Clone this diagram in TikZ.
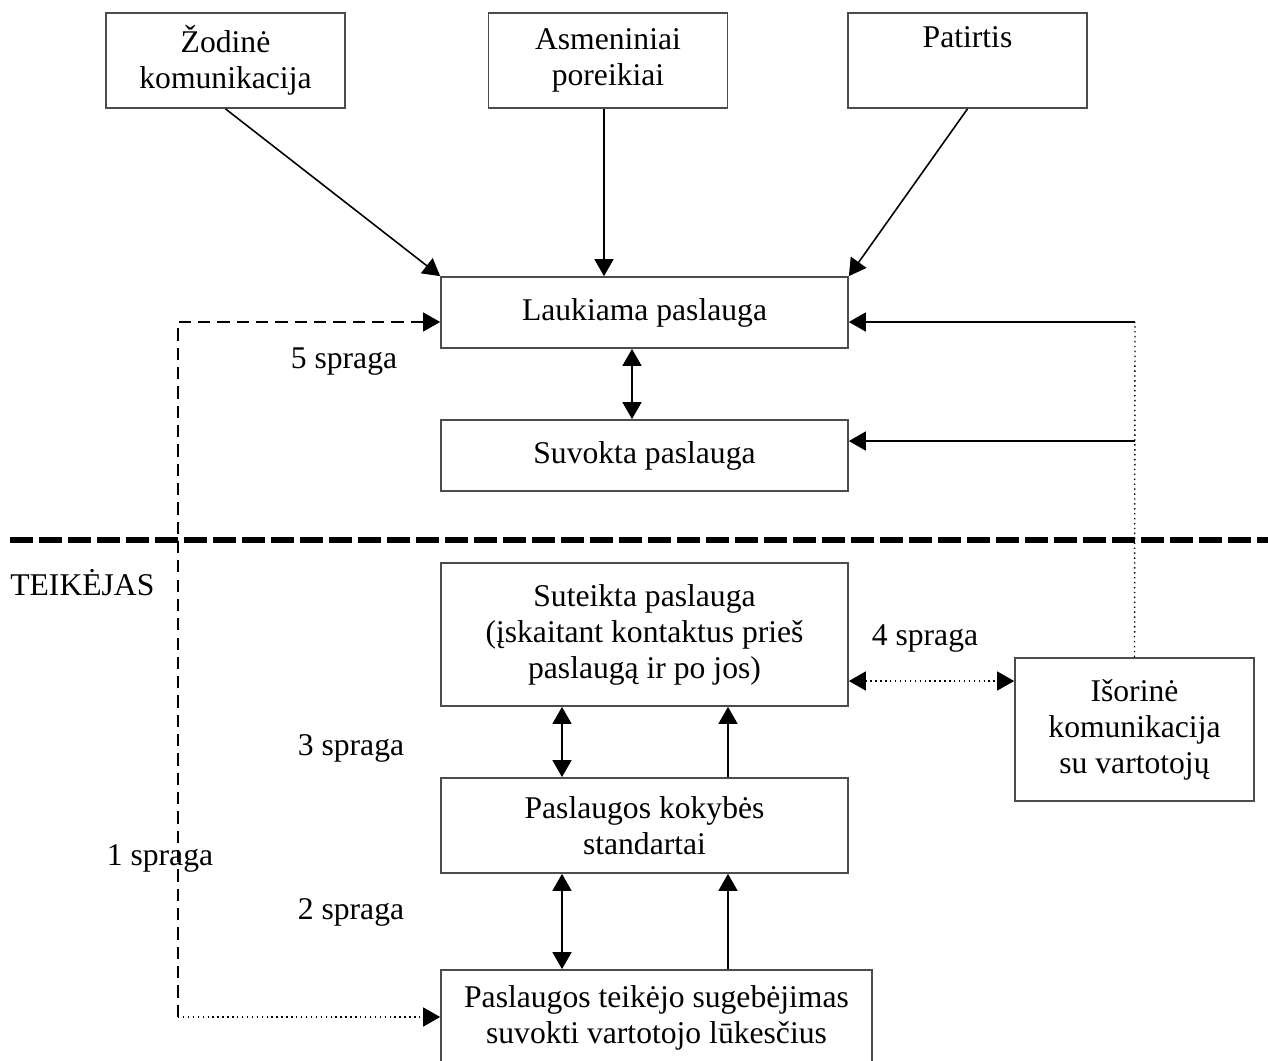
\documentclass[tikz,border=0pt]{standalone}
\usepackage{fontspec}
\setmainfont{Liberation Serif}
\usepackage{tikz}
\usetikzlibrary{arrows.meta, positioning}

\begin{document}
\begin{tikzpicture}[x=0.02cm, y=-0.02cm, >={Triangle[length=0.34cm, width=0.38cm]},
  font=\fontsize{18}{20.5}\selectfont,
  box/.style={draw=black!70, line width=1pt, align=center, inner sep=0pt},
  smallbox/.style={box, minimum width=4.78cm, minimum height=1.9cm},
  widebox/.style={box, minimum width=8.14cm},
  conn/.style={->, line width=0.9pt},
  both/.style={<->, line width=0.9pt},
  thindash/.style={line width=0.7pt, dash pattern=on 7pt off 4pt},
  fine/.style={line width=0.8pt, dotted},
  sepline/.style={line width=3.4pt, dash pattern=on 0.46cm off 0.12cm}]
  \useasboundingbox (0,0) rectangle (1268,1061);

  \node[smallbox] (zodine) at (225.5,60.5) {Žodinė\\komunikacija};
  \node[smallbox] (asmen) at (608,60.5) {Asmeniniai\\poreikiai};
  \node[smallbox] (patirtis) at (967.5,60.5) {Patirtis\\\strut};
  \node[widebox, minimum height=1.42cm] (laukiama) at (644.5,312.5) {Laukiama paslauga};
  \node[widebox, minimum height=1.42cm] (suvokta) at (644.5,455.5) {Suvokta paslauga};
  \node[widebox, minimum height=2.86cm] (suteikta) at (644.5,634.5) {Suteikta paslauga\\(įskaitant kontaktus prieš\\paslaugą ir po jos)};
  \node[widebox, minimum height=1.9cm] (standartai) at (644.5,825.5) {Paslaugos kokybės\\standartai};
  \node[box, minimum width=8.62cm, minimum height=1.9cm] (teikejo) at (656.5,1017.5) {Paslaugos teikėjo sugebėjimas\\suvokti vartotojo lūkesčius};
  \node[smallbox, minimum height=2.86cm] (isorine) at (1134.5,729.5) {Išorinė\\komunikacija\\su vartotojų};

  \node (teikejas) [anchor=west, inner sep=0pt] at (10,583) {TEIKĖJAS};
  \node (s5) at (344,362) {5 spraga};
  \node (s4) at (925,638) {4 spraga};
  \node (s3) at (351,748) {3 spraga};
  \node (s1) at (160,858) {1 spraga};
  \node (s2) at (351,912) {2 spraga};

  \coordinate (r1) at (1135,322);
  \coordinate (r2) at (1135,441);
  \coordinate (l1) at (178,322);
  \coordinate (l2) at (178,1017);

  \draw[sepline] (10,540) -- (1268,540);

  \draw[conn] (zodine.south) -- (laukiama.north west);
  \draw[conn] (asmen.south -| 604,0) -- (laukiama.north -| 604,0);
  \draw[conn] (patirtis.south) -- (laukiama.north east);
  \draw[both] (laukiama.south -| 632,0) -- (suvokta.north -| 632,0);

  \draw[fine] (isorine.north) -- (r1);
  \draw[conn] (r1) -- (r1 -| laukiama.east);
  \draw[conn] (r2) -- (r2 -| suvokta.east);

  \draw[thindash, ->] (l2) -- (l1) -- (l1 -| laukiama.west);
  \draw[fine, ->] (l2) -- (l2 -| teikejo.west);

  \draw[fine, <->] (suteikta.east |- 0,681) -- (isorine.west |- 0,681);

  \draw[both] (suteikta.south -| 562,0) -- (standartai.north -| 562,0);
  \draw[conn] (standartai.north -| 728,0) -- (suteikta.south -| 728,0);
  \draw[both] (standartai.south -| 562,0) -- (teikejo.north -| 562,0);
  \draw[conn] (teikejo.north -| 728,0) -- (standartai.south -| 728,0);
\end{tikzpicture}
\end{document}
